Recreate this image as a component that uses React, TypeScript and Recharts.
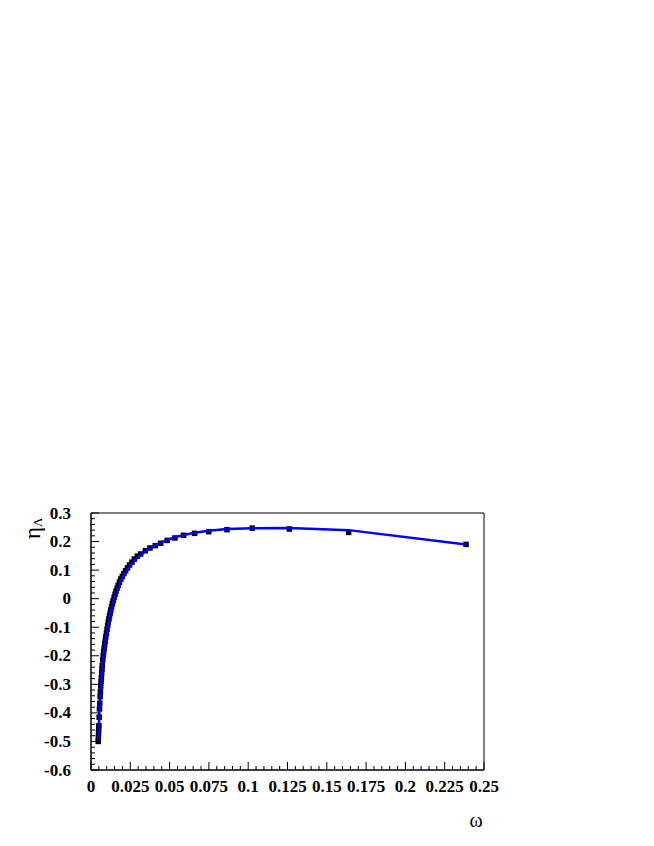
import { ComposedChart, Line, Scatter, XAxis, YAxis, ReferenceArea, Label } from 'recharts'

// omega values of the points (x)
const omega = [
  0.2386, 0.1639, 0.1262, 0.1026, 0.0865, 0.0749, 0.0659, 0.0589, 0.0534, 0.0485, 0.0443, 0.0409, 0.0375,
  0.0346, 0.0316, 0.0295, 0.0276, 0.026, 0.0245, 0.0232, 0.022, 0.0209, 0.0199, 0.019, 0.0181, 0.0173,
  0.0166, 0.0159, 0.0153, 0.0147, 0.0141, 0.0136, 0.0131, 0.0126, 0.0122, 0.0118, 0.0114, 0.011, 0.0106,
  0.0102, 0.0098, 0.0094, 0.009, 0.0087, 0.0084, 0.0081, 0.0078, 0.0075, 0.0072, 0.007, 0.0068, 0.0066,
  0.0064, 0.0062, 0.006, 0.0058, 0.0056, 0.0054, 0.0052, 0.005, 0.0049, 0.0048, 0.0047, 0.0046,
]

// measured eta (black squares)
const etaData = [
  0.19, 0.232, 0.244, 0.247, 0.2416, 0.2346, 0.2288, 0.222, 0.2125, 0.204, 0.194, 0.1856, 0.1775,
  0.168, 0.1565, 0.149, 0.139, 0.128, 0.118, 0.108, 0.098, 0.088, 0.078, 0.069, 0.058, 0.047,
  0.037, 0.026, 0.015, 0.004, -0.007, -0.017, -0.028, -0.04, -0.05, -0.06, -0.071, -0.082, -0.094,
  -0.107, -0.121, -0.134, -0.149, -0.161, -0.173, -0.185, -0.199, -0.214, -0.233, -0.246, -0.26, -0.277,
  -0.29, -0.306, -0.326, -0.343, -0.366, -0.386, -0.415, -0.445, -0.458, -0.472, -0.486, -0.5,
]

// fitted curve (blue line)
const etaFit = [
  0.19, 0.24, 0.2475, 0.247, 0.244, 0.238, 0.231, 0.223, 0.215, 0.206, 0.196, 0.187, 0.177,
  0.166, 0.153, 0.143, 0.133, 0.122, 0.112, 0.102, 0.092, 0.082, 0.072, 0.063, 0.052, 0.041,
  0.031, 0.02, 0.009, -0.002, -0.013, -0.023, -0.034, -0.046, -0.056, -0.066, -0.077, -0.088, -0.1,
  -0.113, -0.127, -0.14, -0.155, -0.167, -0.179, -0.191, -0.205, -0.22, -0.239, -0.252, -0.266, -0.283,
  -0.296, -0.312, -0.332, -0.349, -0.372, -0.392, -0.421, -0.451, -0.464, -0.478, -0.492, -0.5,
]

const xLabels = ['0', '0.025', '0.05', '0.075', '0.1', '0.125', '0.15', '0.175', '0.2', '0.225', '0.25']
const yLabels = ['-0.6', '-0.5', '-0.4', '-0.3', '-0.2', '-0.1', '0', '0.1', '0.2', '0.3']

const data = omega.map((w, i) => ({ omega: w, eta: etaData[i], fit: etaFit[i] }))

// minor ticks: 5 subdivisions between labelled ticks
const subdivide = (labels: string[]) => {
  const vals = labels.map(Number)
  const out: number[] = []
  for (let i = 0; i < vals.length - 1; i++) {
    const step = (vals[i + 1] - vals[i]) / 5
    for (let k = 0; k < 5; k++) out.push(+(vals[i] + k * step).toFixed(5))
  }
  out.push(vals[vals.length - 1])
  return out
}
const xTicks = subdivide(xLabels)
const yTicks = subdivide(yLabels)

const FONT = '"Liberation Serif", "Times New Roman", serif'

const labelFor = (labels: string[], v: number) => labels.find((l) => Math.abs(Number(l) - v) < 1e-6)

const renderXTick = (props: any) => {
  const { x, y, payload } = props
  const lab = labelFor(xLabels, payload.value)
  return (
    <g>
      <line x1={x} x2={x} y1={y} y2={y - (lab ? 8 : 4)} stroke="#000" strokeWidth={1} />
      {lab && (
        <text x={x} y={y + 22} textAnchor="middle" fontFamily={FONT} fontWeight="bold" fontSize={17} fill="#000">
          {lab}
        </text>
      )}
    </g>
  )
}

const renderYTick = (props: any) => {
  const { x, y, payload } = props
  const lab = labelFor(yLabels, payload.value)
  return (
    <g>
      <line x1={x} x2={x + (lab ? 8 : 4)} y1={y} y2={y} stroke="#000" strokeWidth={1} />
      {lab && (
        <text x={x - 20} y={y + 5.5} textAnchor="end" fontFamily={FONT} fontWeight="bold" fontSize={17} fill="#000">
          {lab}
        </text>
      )}
    </g>
  )
}

const Square = (props: any) => {
  const { cx, cy } = props
  if (cx == null || cy == null) return <g />
  return <rect x={cx - 2.75} y={cy - 2.75} width={5.5} height={5.5} fill="#000" />
}

export default function App() {
  return (
    <div style={{ position: 'absolute', left: 0, top: 0, width: 654, height: 846, background: '#fff' }}>
      <ComposedChart width={654} height={846} data={data} margin={{ top: 513, right: 170, bottom: 46, left: 0 }}>
        <XAxis
          dataKey="omega"
          type="number"
          domain={[0, 0.25]}
          ticks={xTicks}
          interval={0}
          tickSize={0}
          tickMargin={0}
          tickLine={false}
          tick={renderXTick}
          axisLine={{ stroke: '#000' }}
          height={30}
          allowDataOverflow
        >
          <Label
            content={() => (
              <text x={476} y={827} textAnchor="middle" fontFamily={FONT} fontSize={20} fill="#000">
                ω
              </text>
            )}
          />
        </XAxis>
        <YAxis
          type="number"
          domain={[-0.6, 0.3]}
          ticks={yTicks}
          interval={0}
          tickSize={0}
          tickMargin={0}
          tickLine={false}
          tick={renderYTick}
          axisLine={{ stroke: '#000' }}
          width={91}
          allowDataOverflow
        >
          <Label
            content={() => (
              <text transform="translate(40, 539) rotate(-90)" fontFamily={FONT} fontSize={23} fill="#000">
                η
                <tspan fontSize={13} dy={2}>
                  Λ
                </tspan>
              </text>
            )}
          />
        </YAxis>
        <ReferenceArea x1={0} x2={0.25} y1={-0.6} y2={0.3} fill="none" stroke="#000" strokeWidth={1} />
        <Scatter dataKey="eta" shape={Square} zIndex={500} isAnimationActive={false} />
        <Line
          dataKey="fit"
          type="linear"
          stroke="#0000ff"
          strokeWidth={2.5}
          dot={false}
          activeDot={false}
          zIndex={900}
          isAnimationActive={false}
        />
      </ComposedChart>
    </div>
  )
}
